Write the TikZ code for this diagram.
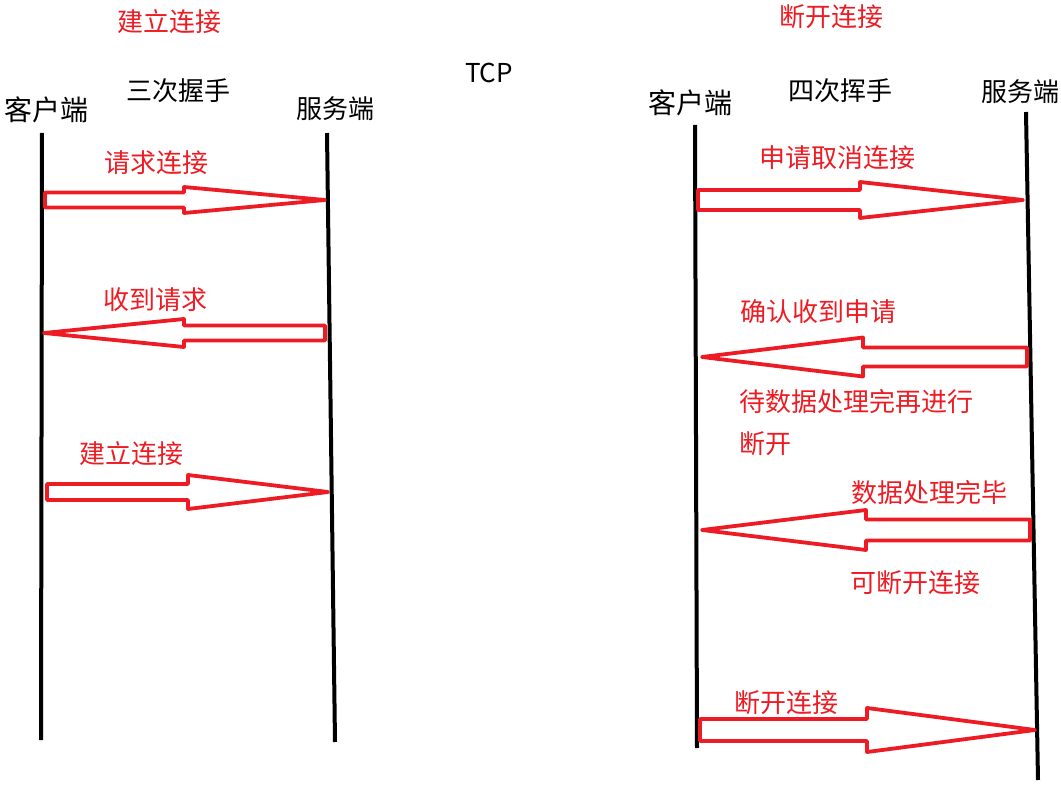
\documentclass[tikz,border=0pt]{standalone}
\usepackage{fontspec}
\newfontfamily\cjk{Noto Sans CJK SC}
\definecolor{pred}{RGB}{237,28,36}
\newcommand\blockarr[6]{% tail, tip, y, neck, shaft half, head half
  \draw[arrowline] (#1,#3-#5) -- (#4,#3-#5) -- (#4,#3-#6) -- (#2,#3) -- (#4,#3+#6) -- (#4,#3+#5) -- (#1,#3+#5) -- cycle;}
\begin{document}
\begin{tikzpicture}[x=1pt,y=-1pt,
  lifeline/.style={line width=4pt,black},
  arrowline/.style={line width=3.8pt,pred,line join=round},
  lbl/.style={font=\cjk\fontsize{26}{30}\selectfont,text=pred,inner sep=0pt},
  blk/.style={font=\cjk\fontsize{26}{30}\selectfont,text=black,inner sep=0pt}]
\useasboundingbox (0,0) rectangle (1061,794);
\begin{scope}
\clip (0,0) rectangle (1061,794);
% lifelines
\coordinate (c1t) at (42,133); \coordinate (c1b) at (41,740);
\coordinate (s1t) at (327,133); \coordinate (s1b) at (335,742);
\coordinate (c2t) at (695,125); \coordinate (c2b) at (697,748);
\coordinate (s2t) at (1026,112); \coordinate (s2b) at (1038,780);
\draw[lifeline] (c1t) -- (c1b);
\draw[lifeline] (s1t) -- (s1b);
\draw[lifeline] (c2t) -- (c2b);
\draw[lifeline] (s2t) -- (s2b);
% arrows
\blockarr{45}{325}{200}{184}{7.5}{13}
\blockarr{325}{44}{333}{184}{7.5}{14}
\blockarr{47}{328}{492}{188}{8}{17}
\blockarr{698}{1023}{200}{860}{10}{18}
\blockarr{1027}{702}{357}{863}{9.5}{19.5}
\blockarr{1030}{702}{530}{866}{10.5}{20}
\blockarr{700}{1035}{730}{867}{11}{22}
% labels
\node[lbl] (t1) at (169,22) {建立连接};
\node[lbl] (t2) at (831,17) {断开连接};
\node[blk] (tcp) at (489,73) {TCP};
\node[blk] (h3) at (178,91) {三次握手};
\node[blk,font=\cjk\fontsize{28}{32}\selectfont] (cl1) at (47,110) {客户端};
\node[blk] (sv1) at (335,109) {服务端};
\node[blk,font=\cjk\fontsize{28}{32}\selectfont] (cl2) at (690,103) {客户端};
\node[blk] (h4) at (840,91) {四次挥手};
\node[blk,anchor=east] (sv2) at (1060,92) {服务端};
\node[lbl] (a1) at (156,163) {请求连接};
\node[lbl] (a2) at (155,300) {收到请求};
\node[lbl] (a3) at (131,454) {建立连接};
\node[lbl] (b1) at (837,158) {申请取消连接};
\node[lbl] (b2) at (818,312) {确认收到申请};
\node[lbl,anchor=west] (b3) at (739,402) {待数据处理完再进行};
\node[lbl,anchor=west] (b4) at (739,444) {断开};
\node[lbl] (b5) at (929,493) {数据处理完毕};
\node[lbl,anchor=west] (b6) at (850,583) {可断开连接};
\node[lbl] (b7) at (786,703) {断开连接};
\end{scope}
\end{tikzpicture}
\end{document}
